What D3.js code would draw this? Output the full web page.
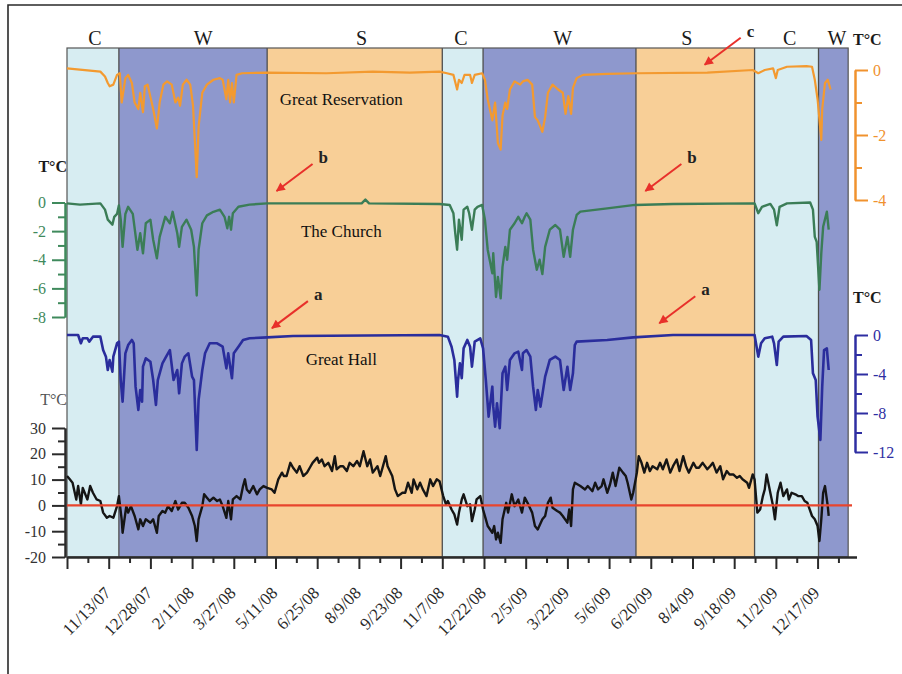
<!DOCTYPE html>
<html>
<head>
<meta charset="utf-8">
<script src="https://cdn.jsdelivr.net/npm/d3@7"></script>
<style>
  body { margin: 0; background: #fff; }
  svg text { font-family: "Liberation Serif", "Times New Roman", serif; }
</style>
</head>
<body>
<div id="chart"></div>
<script>
// x values are days counted from 29 Sep 2007 (left edge of the plot)
const START = new Date(2007, 8, 29);
const dateLabels = ["11/13/07","12/28/07","2/11/08","3/27/08","5/11/08","6/25/08","8/9/08","9/23/08","11/7/08",
                    "12/22/08","2/5/09","3/22/09","5/6/09","6/20/09","8/4/09","9/18/09","11/2/09","12/17/09"];

// seasons: C = cold/transition, W = winter, S = summer
const seasonNames = ["C","W","S","C","W","S","C","W"];
const seasonEdges = [0, 56, 216, 405, 449, 614, 742, 811, 843];
const seasonLabelDay = [30, 147, 318, 425, 535, 669, 780, 831];
const seasonColors = {C: "#d7edf2", W: "#8e98cd", S: "#f8cf97"};

// Great Reservation (orange), T °C
const resTemp = [[0,0.05],[36,-0.05],[41,-0.2],[44,-0.4],[46,-0.5],[50,-0.45],[54,-0.15],[57,-0.1],[59,-1.0],[63,-0.25],
  [66,-0.15],[70,-0.4],[73,-1.0],[77,-1.2],[79,-0.7],[82,-1.3],[84,-0.5],[87,-0.45],[93,-1.2],[97,-1.8],[100,-1.0],
  [104,-0.45],[108,-0.35],[113,-0.45],[117,-1.0],[120,-0.85],[122,-1.1],[125,-0.45],[129,-0.3],[133,-0.45],[136,-1.1],
  [140,-3.3],[142,-1.75],[146,-0.7],[151,-0.45],[158,-0.3],[165,-0.25],[168,-0.3],[172,-0.9],[174,-0.3],[176,-1.0],
  [178,-0.4],[180,-1.0],[183,-0.15],[189,-0.1],[216,-0.08],[280,-0.1],[330,-0.05],[370,-0.08],[402,-0.05],[410,-0.1],
  [417,-0.15],[421,-0.6],[423,-0.3],[426,-0.4],[429,-0.15],[435,-0.15],[437,-0.4],[440,-0.15],[448,-0.1],[451,-0.3],
  [454,-0.9],[459,-1.55],[462,-1.0],[465,-2.25],[468,-2.45],[470,-1.4],[473,-1.0],[475,-1.2],[478,-0.6],[483,-0.35],
  [489,-0.45],[492,-0.35],[497,-0.3],[502,-0.45],[505,-1.45],[508,-1.55],[513,-1.9],[516,-1.45],[519,-0.7],[524,-0.45],
  [530,-0.6],[535,-0.7],[538,-1.35],[541,-0.8],[544,-1.35],[546,-0.55],[550,-0.25],[557,-0.15],[583,-0.12],[615,-0.1],
  [691,-0.08],[740,0],[746,-0.1],[753,0],[762,0.05],[765,-0.25],[767,0],[777,0.1],[798,0.12],[804,0.1],[807,-0.3],
  [810,-0.9],[814,-2.15],[815,-1.2],[818,-0.4],[821,-0.3],[824,-0.6]];

// The Church (green), T °C
const churchTemp = [[0,-0.06],[14,-0.15],[36,-0.06],[41,-0.5],[44,-1.2],[49,-1.55],[51,-1.0],[54,-0.8],[56,-0.2],[58,-1.2],
  [60,-3.1],[63,-0.8],[66,-0.3],[71,-0.8],[76,-3.3],[79,-2.15],[82,-3.55],[85,-1.45],[90,-1.2],[93,-2.6],[97,-3.9],
  [100,-2.4],[106,-1.0],[111,-1.45],[114,-0.65],[119,-2.15],[121,-3.1],[124,-1.7],[129,-1.2],[134,-1.9],[137,-3.1],
  [140,-6.5],[142,-3.3],[146,-1.45],[151,-0.9],[158,-0.65],[165,-0.5],[170,-1.0],[173,-1.8],[175,-1.0],[177,-1.9],
  [179,-0.75],[185,-0.3],[197,-0.15],[216,-0.06],[318,-0.06],[322,0.2],[326,-0.06],[402,-0.1],[413,-0.17],[417,-0.75],
  [419,-2.15],[421,-3.3],[423,-1.2],[426,-2.6],[428,-0.5],[432,-0.3],[434,-0.75],[437,-1.9],[440,-0.5],[443,-0.3],
  [448,-0.17],[451,-1.2],[454,-3.3],[459,-4.95],[460,-3.55],[463,-6.6],[465,-5.2],[468,-6.7],[470,-4.5],[473,-3.1],
  [475,-4.0],[478,-1.9],[483,-1.45],[487,-1.0],[491,-1.45],[494,-1.0],[496,-0.75],[500,-1.2],[503,-3.3],[507,-4.7],
  [510,-4.0],[513,-5.0],[516,-3.1],[521,-1.9],[527,-1.57],[532,-1.9],[536,-3.8],[540,-2.4],[543,-3.8],[546,-1.9],
  [550,-0.87],[554,-0.64],[583,-0.41],[613,-0.17],[654,-0.1],[742,-0.06],[746,-0.75],[750,-0.3],[759,-0.1],[763,-0.5],
  [766,-1.6],[769,-0.3],[777,-0.06],[802,0],[805,-0.5],[807,-2.4],[809,-2.74],[812,-6.1],[814,-3.55],[816,-1.7],
  [820,-0.64],[822,-1.9]];

// Great Hall (blue), T °C
const hallTemp = [[0,0],[12,0],[15,-0.85],[17,-0.34],[22,-0.34],[24,-0.68],[28,-0.17],[36,-0.17],[39,-1.54],[42,-2.22],
  [44,-3.59],[46,-2.56],[49,-3.76],[50,-2.22],[54,-0.85],[56,-0.68],[58,-4.62],[60,-6.84],[63,-1.88],[66,-1.03],
  [70,-0.51],[72,-0.85],[74,-5.3],[77,-7.69],[79,-5.64],[81,-6.84],[82,-3.25],[85,-2.39],[90,-2.74],[93,-4.62],
  [96,-7.18],[98,-4.62],[103,-2.91],[107,-2.22],[111,-1.54],[115,-4.62],[119,-3.59],[121,-5.98],[124,-2.91],[127,-2.22],
  [131,-1.88],[135,-4.27],[137,-4.62],[140,-11.8],[142,-6.67],[146,-3.59],[149,-1.88],[154,-0.85],[162,-0.85],[168,-1.2],
  [172,-3.42],[174,-1.88],[178,-4.44],[180,-1.88],[185,-1.2],[190,-0.51],[197,-0.34],[216,-0.24],[244,-0.1],[402,0],
  [411,-0.17],[415,-1.2],[418,-2.56],[421,-6.32],[422,-4.62],[424,-2.91],[426,-4.44],[428,-1.37],[432,-0.51],[435,-1.2],
  [437,-3.25],[440,-0.68],[446,-0.34],[449,-1.37],[452,-4.62],[455,-8.38],[459,-5.3],[460,-7.35],[462,-9.4],[464,-7.0],
  [467,-9.57],[470,-3.93],[473,-3.25],[475,-5.64],[478,-2.56],[483,-1.88],[487,-1.71],[491,-3.59],[492,-1.88],[496,-1.54],
  [500,-2.22],[503,-5.3],[506,-7.69],[508,-5.64],[511,-7.35],[516,-4.27],[521,-2.56],[527,-2.22],[532,-2.56],[536,-5.64],
  [540,-3.25],[543,-5.64],[546,-3.93],[548,-1.03],[550,-0.68],[583,-0.51],[611,-0.24],[654,0],[742,0],[746,-2.22],
  [749,-0.85],[753,-0.34],[761,-0.17],[763,-0.85],[766,-3.08],[768,-0.68],[773,-0.17],[798,-0.1],[803,-0.51],[805,-3.93],
  [808,-4.62],[810,-8.38],[813,-10.77],[815,-5.3],[817,-1.54],[820,-1.37],[822,-3.59]];

// outdoor air (black), T °C
const outdoorTemp = [[0,11.4],[3,10.1],[6,8.8],[10,2.3],[12,7.5],[15,0.4],[17,6.8],[22,2.3],[25,7.5],[28,4.9],[32,2.3],
  [36,1.7],[39,-2.8],[43,-4.8],[46,-4.1],[50,-4.8],[54,-0.3],[56,3.6],[59,-5.4],[60,-10.6],[64,-0.3],[66,-2.8],[69,-0.3],
  [73,-4.1],[77,-9.3],[79,-5.4],[82,-8.0],[85,-5.4],[90,-6.7],[93,-5.4],[97,-10.6],[99,-4.1],[103,-2.2],[106,-2.8],
  [109,-0.3],[113,-2.2],[117,1.7],[120,-1.6],[124,1.0],[127,1.0],[131,-0.9],[135,-4.1],[138,-8.0],[140,-13.8],[142,-5.4],
  [146,-0.3],[148,4.3],[151,3.0],[154,1.7],[158,3.0],[162,1.7],[165,2.3],[168,-0.3],[172,-4.8],[174,1.7],[177,-5.4],
  [179,2.3],[183,3.6],[187,2.3],[190,7.5],[192,10.1],[194,6.2],[197,4.9],[201,7.5],[205,4.3],[208,6.2],[212,7.5],
  [216,6.8],[221,6.2],[224,4.9],[228,10.1],[232,12.7],[234,11.4],[237,11.4],[241,16.5],[244,14.6],[248,12.7],[251,15.2],
  [255,11.4],[259,12.7],[262,14.6],[265,16.5],[270,18.5],[272,16.5],[275,17.8],[278,15.2],[282,16.5],[286,13.3],
  [289,19.1],[291,14.0],[295,15.2],[298,15.2],[302,13.3],[305,16.5],[309,15.2],[313,17.2],[316,15.2],[320,21.0],
  [324,15.2],[327,17.8],[330,12.7],[335,15.2],[338,11.4],[341,15.2],[344,19.1],[346,15.2],[351,11.4],[354,6.2],[357,3.6],
  [362,4.9],[365,4.9],[368,8.8],[372,4.9],[374,10.1],[378,6.2],[381,8.8],[384,6.2],[388,3.6],[392,10.1],[395,7.5],
  [399,10.1],[402,9.4],[406,3.6],[409,0.4],[411,1.7],[415,-1.6],[418,-3.5],[421,-7.4],[423,-2.8],[426,2.3],[428,4.3],
  [432,-0.3],[435,0.4],[437,-6.1],[440,-1.6],[442,2.3],[446,3.6],[449,-1.6],[452,-5.4],[454,-8.0],[459,-10.6],[461,-8.0],
  [463,-13.2],[465,-10.6],[468,-14.5],[470,-5.4],[474,1.0],[476,-2.8],[480,4.3],[483,-0.3],[487,2.3],[491,-2.8],[494,3.0],
  [497,1.0],[502,-2.8],[505,-8.0],[508,-9.3],[513,-5.4],[516,-4.1],[519,1.0],[522,3.0],[524,-0.9],[529,-2.2],[532,-2.8],
  [535,-4.1],[540,-6.7],[542,-1.6],[544,-8.0],[546,6.2],[548,8.8],[554,7.5],[559,6.2],[562,7.5],[567,5.5],[570,8.8],
  [573,6.2],[577,7.5],[579,10.1],[583,4.9],[586,8.1],[589,12.7],[592,7.5],[596,14.6],[600,12.7],[603,11.4],[605,8.8],
  [609,2.3],[611,4.9],[615,12.7],[617,19.1],[620,16.5],[623,12.7],[626,16.5],[629,13.3],[632,15.2],[637,14.0],[640,16.5],
  [643,14.0],[647,17.8],[651,12.7],[654,15.2],[658,17.8],[661,13.3],[665,19.1],[668,15.2],[671,12.7],[676,16.5],
  [679,14.6],[682,14.6],[686,16.5],[691,14.0],[694,15.2],[697,16.5],[701,12.7],[705,15.2],[708,10.1],[712,13.3],
  [715,12.0],[719,12.0],[723,10.7],[726,11.4],[729,10.1],[734,8.8],[736,6.8],[740,12.0],[742,10.1],[745,-2.8],[748,-1.6],
  [751,3.6],[753,6.2],[755,12.0],[759,4.9],[762,-0.3],[764,-5.4],[767,4.9],[770,8.8],[773,3.6],[777,6.2],[779,2.3],
  [782,4.9],[786,4.3],[789,3.6],[793,3.6],[796,1.7],[799,1.0],[804,-4.1],[807,-5.4],[810,-8.0],[812,-13.8],[814,-5.4],
  [816,4.9],[818,7.5],[821,-0.3],[822,-4.1]];

// red arrows: tip position (day, value on the named scale)
const arrowNotes = [
  {label: "c", day: 686, value: 0.1,  scale: "res"},
  {label: "b", day: 224, value: 0.66, scale: "church"},
  {label: "b", day: 622, value: 0.66, scale: "church"},
  {label: "a", day: 219, value: 0.5,  scale: "hall"},
  {label: "a", day: 637, value: 1.0,  scale: "hall"}
];

const W = 902, H = 674;
const plot = {left: 67, right: 848, top: 48, bottom: 557};

const svg = d3.select("#chart").append("svg")
    .attr("width", W).attr("height", H);

const x = d3.scaleLinear().domain([0, 852]).range([67, 856.5]);
const yRes = d3.scaleLinear().domain([0, -4]).range([70, 200]);
const yChurch = d3.scaleLinear().domain([0, -8]).range([202.5, 317]);
const yHall = d3.scaleLinear().domain([0, -12]).range([335, 452]);
const yOut = d3.scaleLinear().domain([-20, 30]).range([557, 428]);
const scales = {res: yRes, church: yChurch, hall: yHall};

const parse = d3.timeParse("%m/%d/%y");
const labelDays = dateLabels.map(s => d3.timeDay.count(START, parse(s)));

// outer frame (top and left only are visible)
svg.append("path").attr("d", `M8,${H}V5H${W}`).attr("fill", "none")
    .attr("stroke", "#2a2a2a").attr("stroke-width", 1.6);

// season bands
const bands = seasonNames.map((s, i) => ({name: s, from: seasonEdges[i], to: seasonEdges[i + 1], labelDay: seasonLabelDay[i]}));
svg.append("g").selectAll("rect").data(bands).enter().append("rect")
    .attr("x", d => x(d.from)).attr("y", plot.top)
    .attr("width", d => x(d.to) - x(d.from)).attr("height", plot.bottom - plot.top)
    .attr("fill", d => seasonColors[d.name]);
svg.append("g").selectAll("line").data(seasonEdges.slice(1, -1)).enter().append("line")
    .attr("x1", d => x(d)).attr("x2", d => x(d)).attr("y1", plot.top).attr("y2", plot.bottom)
    .attr("stroke", "#4d4d4d").attr("stroke-width", 1.3);
svg.append("rect").attr("x", plot.left).attr("y", plot.top)
    .attr("width", x(seasonEdges[seasonEdges.length - 1]) - plot.left).attr("height", plot.bottom - plot.top)
    .attr("fill", "none").attr("stroke", "#555").attr("stroke-width", 1.2);
svg.append("g").selectAll("text").data(bands).enter().append("text")
    .attr("x", d => x(d.labelDay)).attr("y", 45)
    .attr("text-anchor", "middle").attr("font-size", 20).attr("fill", "#1a1a1a")
    .text(d => d.name);

// series
function drawSeries(data, yScale, color, width) {
  svg.append("path").datum(data)
    .attr("fill", "none").attr("stroke", color).attr("stroke-width", width)
    .attr("stroke-linejoin", "round")
    .attr("d", d3.line().x(d => x(d[0])).y(d => yScale(d[1])));
}
drawSeries(resTemp, yRes, "#f39a30", 2.2);
drawSeries(churchTemp, yChurch, "#3b7d57", 2.4);
drawSeries(hallTemp, yHall, "#2a2d9c", 2.6);
drawSeries(outdoorTemp, yOut, "#151515", 2.4);

// 0 °C reference line
svg.append("line").attr("x1", x(0)).attr("x2", 852).attr("y1", yOut(0)).attr("y2", yOut(0))
    .attr("stroke", "#e8452d").attr("stroke-width", 2.2);

// vertical axes
function vAxis(scale, side, xPos, majors, minors, color, textColor, pad) {
  const make = side === "left" ? d3.axisLeft : d3.axisRight;
  const g = svg.append("g").attr("transform", `translate(${xPos},0)`);
  g.append("g").call(make(scale).tickValues(minors).tickSize(7).tickSizeOuter(0).tickFormat(""));
  g.append("g").call(make(scale).tickValues(majors).tickSize(13).tickSizeOuter(0)
      .tickPadding(pad).tickFormat(d => String(d)));
  g.selectAll("g").attr("font-family", null).attr("font-size", null);
  g.selectAll("path, line").attr("stroke", color).attr("stroke-width", 2);
  g.selectAll("text").attr("fill", textColor).attr("font-size", 16);
}
vAxis(yRes, "right", 855, [0, -2, -4], [-1, -3], "#f0922e", "#f0922e", 5);
vAxis(yChurch, "left", 65, [0, -2, -4, -6, -8], [-1, -3, -5, -7], "#3f8a5c", "#3f8a5c", 6);
vAxis(yHall, "right", 855, [0, -4, -8, -12], [-2, -6, -10], "#2e2ea2", "#2e2ea2", 5);
vAxis(yOut, "left", 65, [30, 20, 10, 0, -10, -20], [25, 15, 5, -5, -15], "#2a2a2a", "#333", 6);

// bottom date axis
const minorDays = labelDays.map(d => d - 22.5).concat([labelDays[labelDays.length - 1] + 22.5]);
const xg = svg.append("g").attr("transform", `translate(0,${plot.bottom})`);
xg.append("g").call(d3.axisBottom(x).tickValues(minorDays).tickSize(6).tickSizeOuter(0).tickFormat(""));
xg.append("g").call(d3.axisBottom(x).tickValues([0].concat(labelDays)).tickSize(12).tickSizeOuter(0).tickFormat(""));
xg.selectAll("path, line").attr("stroke", "#2a2a2a").attr("stroke-width", 2);
svg.append("g").selectAll("text").data(dateLabels).enter().append("text")
    .attr("transform", (d, i) => `translate(${x(labelDays[i]) + 3},594) rotate(-45)`)
    .attr("text-anchor", "end").attr("font-size", 17).attr("fill", "#2a2a2a")
    .text(d => d);

// unit labels
const units = [
  {x: 853, y: 45, weight: "bold", color: "#1a1a1a", anchor: "start"},
  {x: 67, y: 172, weight: "bold", color: "#1a1a1a", anchor: "end"},
  {x: 853, y: 303, weight: "bold", color: "#1a1a1a", anchor: "start"},
  {x: 67, y: 405, weight: "normal", color: "#555", anchor: "end"}
];
svg.append("g").selectAll("text").data(units).enter().append("text")
    .attr("x", d => d.x).attr("y", d => d.y).attr("text-anchor", d => d.anchor)
    .attr("font-size", 16).attr("font-weight", d => d.weight).attr("fill", d => d.color)
    .text("T°C");

// site names
const siteNames = [
  {name: "Great Reservation", day: 296, y: 105},
  {name: "The Church", day: 296, y: 237},
  {name: "Great Hall", day: 296, y: 365}
];
svg.append("g").selectAll("text").data(siteNames).enter().append("text")
    .attr("x", d => x(d.day)).attr("y", d => d.y).attr("text-anchor", "middle")
    .attr("font-size", 17).attr("fill", "#111").text(d => d.name);

// red arrows
svg.append("defs").append("marker")
    .attr("id", "head").attr("viewBox", "0 0 10 10").attr("refX", 9).attr("refY", 5)
    .attr("markerWidth", 11).attr("markerHeight", 9).attr("markerUnits", "userSpaceOnUse")
    .attr("orient", "auto")
  .append("path").attr("d", "M0,0L10,5L0,10Z").attr("fill", "#e8302a");
const notes = svg.append("g").selectAll("g").data(arrowNotes).enter().append("g")
    .attr("transform", d => `translate(${x(d.day)},${scales[d.scale](d.value)})`);
notes.append("line").attr("x1", 38).attr("y1", -29).attr("x2", 2).attr("y2", -2)
    .attr("stroke", "#e8302a").attr("stroke-width", 2).attr("marker-end", "url(#head)");
notes.append("text").attr("x", 44).attr("y", -30).attr("font-size", 17).attr("font-weight", "bold")
    .attr("fill", "#222").text(d => d.label);
</script>
</body>
</html>
